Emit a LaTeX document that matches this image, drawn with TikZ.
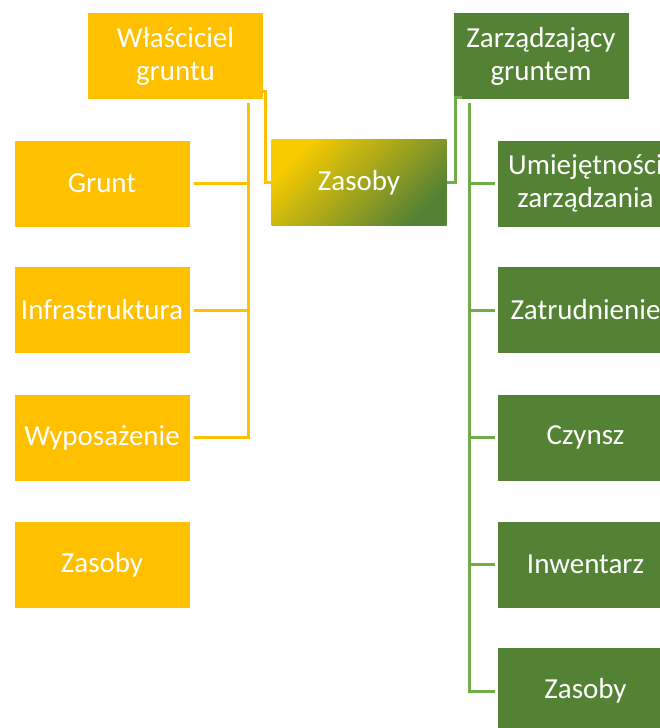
\documentclass[tikz,border=0pt]{standalone}
\usepackage{fontspec}
\setmainfont{Carlito}
\usepackage{tikz}
\usetikzlibrary{positioning}
\definecolor{owner_orange}{HTML}{FFC000}
\definecolor{manager_green}{HTML}{548235}
\definecolor{link_green}{HTML}{70AD47}
\definecolor{res_yellow}{HTML}{F7CB00}
\tikzstyle{box}=[rectangle, minimum width=175pt, minimum height=86pt, inner sep=0pt,
    text=white, align=center, font=\fontsize{29}{33}\selectfont]
\tikzstyle{box_owner}=[box, fill=owner_orange]
\tikzstyle{box_manager}=[box, fill=manager_green]
\tikzstyle{box_res}=[box, top color=res_yellow, bottom color=manager_green, shading angle=45]
\tikzstyle{link_owner}=[draw=owner_orange, line width=3pt]
\tikzstyle{link_manager}=[draw=link_green, line width=3pt]

\begin{document}
\begin{tikzpicture}[x=1pt, y=-1pt]
\useasboundingbox (0,0) rectangle (660,728);
\node[box_owner] (own) at (175.5,56){Właściciel\\gruntu};
\node[box_manager] (mgr) at (541,56){Zarządzający\\gruntem};
\node[box_res] (res) at (359,182.5){Zasoby};
\node[box_owner] (own1) at (102,183.5){Grunt};
\node[box_owner] (own2) at (102,310){Infrastruktura};
\node[box_owner] (own3) at (102,437.5){Wyposażenie};
\node[box_owner] (own4) at (102,564.5){Zasoby};
\node[box_manager] (mgr1) at (585.5,183.5){Umiejętności\\zarządzania};
\node[box_manager] (mgr2) at (585.5,310){Zatrudnienie};
\node[box_manager] (mgr3) at (585.5,437.5){Czynsz};
\node[box_manager] (mgr4) at (585.5,564.5){Inwentarz};
\node[box_manager] (mgr5) at (585.5,691){Zasoby};
\coordinate (own_bus) at (248,103);
\coordinate (mgr_bus) at (469,103);
% owner side
\draw[link_owner](own_bus) |- ([xshift=4pt]own3.east);
\draw[link_owner]([xshift=4pt]own1.east) -- (own1.east -| own_bus);
\draw[link_owner]([xshift=4pt]own2.east) -- (own2.east -| own_bus);
\draw[link_owner]([yshift=8pt]own.south east) -- ++(2pt,0) |- (res.west);
% manager side
\draw[link_manager](res.east) -| ([xshift=2pt,yshift=2pt]mgr.south west) -- ++(7pt,0);
\draw[link_manager](mgr_bus) |- ([xshift=-3pt]mgr5.west);
\draw[link_manager]([xshift=-3pt]mgr1.west) -- (mgr1.west -| mgr_bus);
\draw[link_manager]([xshift=-3pt]mgr2.west) -- (mgr2.west -| mgr_bus);
\draw[link_manager]([xshift=-3pt]mgr3.west) -- (mgr3.west -| mgr_bus);
\draw[link_manager]([xshift=-3pt]mgr4.west) -- (mgr4.west -| mgr_bus);
\end{tikzpicture}
\end{document}
